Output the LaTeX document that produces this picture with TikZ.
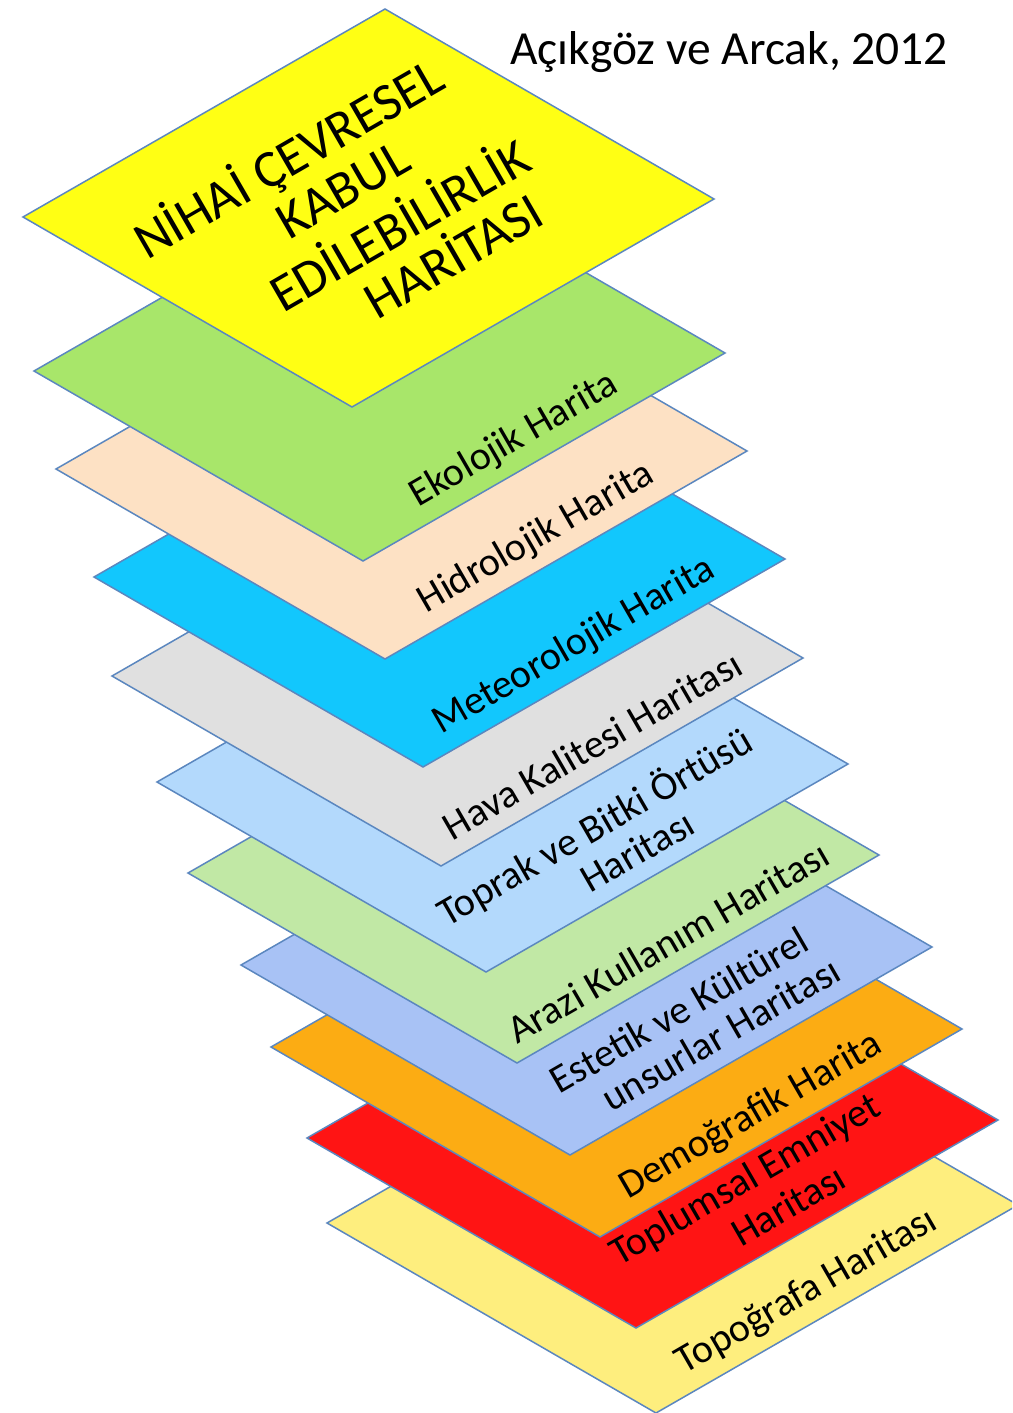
\documentclass[tikz,border=0pt]{standalone}
\usepackage{fontspec}
\setmainfont{Carlito}
\definecolor{lyEdge}{HTML}{5B87BF}
\definecolor{lyTop}{HTML}{FFFF14}
\definecolor{lyEko}{HTML}{A8E66A}
\definecolor{lyHidro}{HTML}{FDE1C4}
\definecolor{lyMeteo}{HTML}{12C7FD}
\definecolor{lyHava}{HTML}{E0E0E0}
\definecolor{lyToprak}{HTML}{B3D9FC}
\definecolor{lyArazi}{HTML}{C1E8A5}
\definecolor{lyEstetik}{HTML}{A8C2F5}
\definecolor{lyDemo}{HTML}{FCAC13}
\definecolor{lyToplum}{HTML}{FF1414}
\definecolor{lyTopo}{HTML}{FEEE7E}
\begin{document}
\begin{tikzpicture}[x=1pt, y=-1pt,
  layer/.style={draw=lyEdge, line width=1.5pt},
  lbl/.style={rotate=30, inner sep=0pt, font=\fontsize{40}{48}\selectfont},
  ttl/.style={rotate=30, inner sep=0pt, font=\fontsize{53}{62}\selectfont}]
\useasboundingbox (0,0) rectangle (1012,1413);
\clip (0,0) rectangle (1012,1413);
\fill[white] (0,0) rectangle (1012,1413);

\draw[layer, fill=lyTopo] (327,1223) -- ++(329,190) -- ++(362,-208) -- ++(-329,-190) -- cycle;
\node[lbl] (topo) at (807,1292) {Topoğrafa Haritası};
\draw[layer, fill=lyToplum] (307,1138) -- ++(329,190) -- ++(362,-208) -- ++(-329,-190) -- cycle;
\node[lbl] (toplum1) at (746,1181) {Toplumsal Emniyet};
\node[lbl] (toplum2) at (788,1205) {Haritası};
\draw[layer, fill=lyDemo] (271,1047) -- ++(329,190) -- ++(362,-208) -- ++(-329,-190) -- cycle;
\node[lbl] (demo) at (751,1116) {Demoğrafik Harita};
\draw[layer, fill=lyEstetik] (241,965) -- ++(329,190) -- ++(362,-208) -- ++(-329,-190) -- cycle;
\node[lbl] (estetik1) at (679,1010) {Estetik ve Kültürel};
\node[lbl] (estetik2) at (721,1034) {unsurlar Haritası};
\draw[layer, fill=lyArazi] (188,873) -- ++(329,190) -- ++(362,-208) -- ++(-329,-190) -- cycle;
\node[lbl] (arazi) at (668,942) {Arazi Kullanım Haritası};
\draw[layer, fill=lyToprak] (157,782) -- ++(329,190) -- ++(362,-208) -- ++(-329,-190) -- cycle;
\node[lbl] (toprak1) at (595,827) {Toprak ve Bitki Örtüsü};
\node[lbl] (toprak2) at (637,851) {Haritası};
\draw[layer, fill=lyHava] (112,676) -- ++(329,190) -- ++(362,-208) -- ++(-329,-190) -- cycle;
\node[lbl] (hava) at (592,745) {Hava Kalitesi Haritası};
\draw[layer, fill=lyMeteo] (94,577) -- ++(329,190) -- ++(362,-208) -- ++(-329,-190) -- cycle;
\node[lbl] (meteo) at (574,646) {Meteorolojik Harita};
\draw[layer, fill=lyHidro] (56,469) -- ++(329,190) -- ++(362,-208) -- ++(-329,-190) -- cycle;
\node[lbl] (hidro) at (536,538) {Hidrolojik Harita};
\draw[layer, fill=lyEko] (34,371) -- ++(329,190) -- ++(362,-208) -- ++(-329,-190) -- cycle;
\node[lbl] (eko) at (514,440) {Ekolojik Harita};
\draw[layer, fill=lyTop] (23,217) -- ++(329,190) -- ++(362,-208) -- ++(-329,-190) -- cycle;
\node[ttl] (nihai1) at (289,159) {NİHAİ ÇEVRESEL};
\node[ttl] (nihai2) at (343,190) {KABUL};
\node[ttl] (nihai3) at (398,222) {EDİLEBİLİRLİK};
\node[ttl] (nihai4) at (452,253) {HARİTASI};

\node[anchor=base west, inner sep=0pt, font=\fontsize{47.5}{57}\selectfont] (kaynak) at (510,65) {Açıkgöz ve Arcak, 2012};
\end{tikzpicture}
\end{document}
